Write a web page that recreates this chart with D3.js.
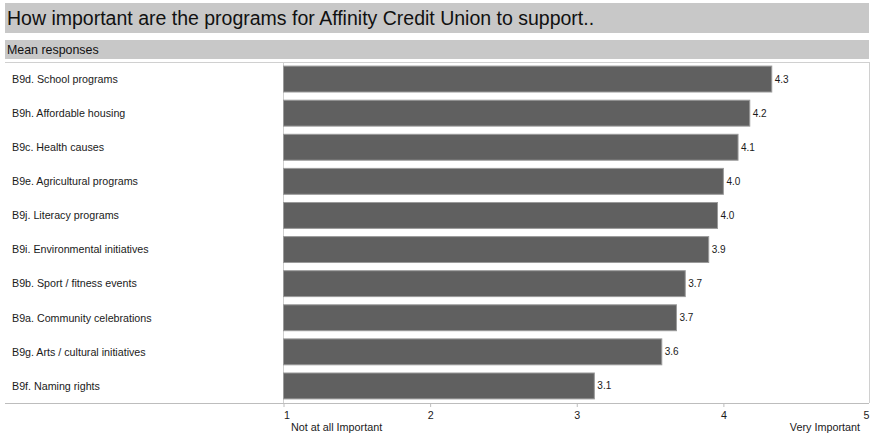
<!DOCTYPE html>
<html>
<head>
<meta charset="utf-8">
<script src="https://cdn.jsdelivr.net/npm/d3@7"></script>
<style>
  html, body { margin: 0; padding: 0; background: #fff; }
  svg { display: block; font-family: "Liberation Sans", Arial, sans-serif; }
</style>
</head>
<body>
<svg id="chart" width="870" height="439"></svg>
<script>
// Programs and their mean importance ratings (1 = not at all, 5 = very important)
const categories = [
  "B9d. School programs",
  "B9h. Affordable housing",
  "B9c. Health causes",
  "B9e. Agricultural programs",
  "B9j. Literacy programs",
  "B9i. Environmental initiatives",
  "B9b. Sport / fitness events",
  "B9a. Community celebrations",
  "B9g. Arts / cultural initiatives",
  "B9f. Naming rights"
];
const means = [4.33, 4.18, 4.10, 4.00, 3.96, 3.90, 3.74, 3.68, 3.58, 3.12];
const tickValues = [1, 2, 3, 4, 5];
const scaleEndLabels = ["Not at all Important", "Very Important"];
const titleText = "How important are the programs for Affinity Credit Union to support..";
const subtitleText = "Mean responses";

const svg = d3.select("#chart");
const plotLeft = 283.5, plotRight = 870, plotTop = 62, plotBottom = 403;
const textColor = "#1a1a1a";

// Header bands
svg.append("rect").attr("x", 5).attr("y", 3).attr("width", 864).attr("height", 30).attr("fill", "#c8c8c8");
svg.append("text").attr("x", 7).attr("y", 25).attr("font-size", 19.5).attr("fill", "#111").text(titleText);
svg.append("rect").attr("x", 5).attr("y", 40).attr("width", 864).attr("height", 19).attr("fill", "#c8c8c8");
svg.append("text").attr("x", 7).attr("y", 54).attr("font-size", 12.4).attr("fill", "#111").text(subtitleText);

const x = d3.scaleLinear().domain([1, 5]).range([plotLeft, plotRight]);
const y = d3.scaleBand().domain(categories).range([plotTop, plotBottom]).paddingInner(0.24).paddingOuter(0.12);

// Frame lines
svg.append("line").attr("x1", 5).attr("x2", 869).attr("y1", plotTop + 0.5).attr("y2", plotTop + 0.5).attr("stroke", "#d0d0d0");
svg.append("line").attr("x1", 283.5).attr("x2", 283.5).attr("y1", plotTop).attr("y2", plotBottom).attr("stroke", "#d0d0d0");
svg.append("line").attr("x1", 869.5).attr("x2", 869.5).attr("y1", plotTop).attr("y2", plotBottom).attr("stroke", "#d0d0d0");
svg.append("line").attr("x1", 5).attr("x2", 869).attr("y1", plotBottom + 0.5).attr("y2", plotBottom + 0.5).attr("stroke", "#bdbdbd");

// Bars
svg.append("g").selectAll("rect").data(means).join("rect")
  .attr("x", x(1))
  .attr("y", (d, i) => y(categories[i]))
  .attr("width", d => x(d) - x(1))
  .attr("height", y.bandwidth())
  .attr("fill", "#606060")
  .attr("stroke", "#9a9a9a")
  .attr("stroke-width", 1);

// Value labels
svg.append("g").selectAll("text").data(means).join("text")
  .attr("x", d => x(d) + 3)
  .attr("y", (d, i) => y(categories[i]) + y.bandwidth() / 2 + 3.5)
  .attr("font-size", 10).attr("fill", textColor)
  .text(d => d3.format(".1f")(d));

// Category labels
svg.append("g").selectAll("text").data(categories).join("text")
  .attr("x", 12)
  .attr("y", d => y(d) + y.bandwidth() / 2 + 3.8)
  .attr("font-size", 10.7).attr("fill", textColor)
  .text(d => d);

// Axis
const axis = d3.axisBottom(x).tickValues(tickValues).tickSize(4).tickFormat(d3.format("d"));
const ax = svg.append("g").attr("transform", `translate(0,${plotBottom})`).call(axis);
ax.select(".domain").remove();
ax.selectAll(".tick line").attr("stroke", "#bdbdbd");
ax.selectAll(".tick text")
  .attr("font-size", 10.7).attr("fill", textColor)
  .attr("font-family", "Liberation Sans, Arial, sans-serif")
  .attr("dy", null).attr("y", 15.5)
  .attr("text-anchor", d => d === 5 ? "end" : "middle")
  .attr("dx", d => d === 1 ? 3 : (d === 5 ? -1 : 0));

svg.append("text").attr("x", 291).attr("y", 431).attr("font-size", 10.8).attr("fill", textColor).text(scaleEndLabels[0]);
svg.append("text").attr("x", 860).attr("y", 431).attr("text-anchor", "end").attr("font-size", 10.8).attr("fill", textColor).text(scaleEndLabels[1]);
</script>
</body>
</html>
